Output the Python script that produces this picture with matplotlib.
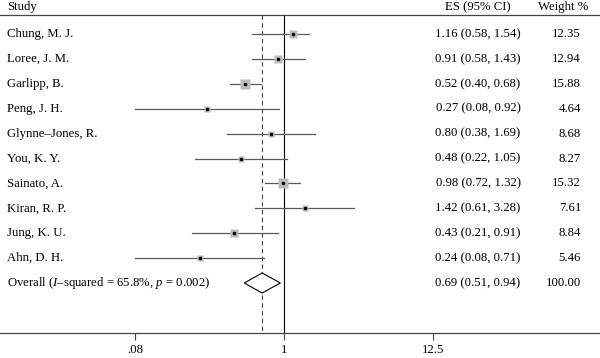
import matplotlib
matplotlib.use("Agg")
import matplotlib.pyplot as plt
import numpy as np

studies = ["Chung, M. J.", "Loree, J. M.", "Garlipp, B.", "Peng, J. H.",
           "Glynne–Jones, R.", "You, K. Y.", "Sainato, A.", "Kiran, R. P.",
           "Jung, K. U.", "Ahn, D. H."]
es = [1.16, 0.91, 0.52, 0.27, 0.80, 0.48, 0.98, 1.42, 0.43, 0.24]
lo = [0.58, 0.58, 0.40, 0.08, 0.38, 0.22, 0.72, 0.61, 0.21, 0.08]
hi = [1.54, 1.43, 0.68, 0.92, 1.69, 1.05, 1.32, 3.28, 0.91, 0.71]
weights = [12.35, 12.94, 15.88, 4.64, 8.68, 8.27, 15.32, 7.61, 8.84, 5.46]

overall_es, overall_lo, overall_hi = 0.69, 0.51, 0.94
overall_weight = 100.00
overall_label = r"Overall ($I$–squared = 65.8%, $p$ = 0.002)"

xticks = [0.08, 1, 12.5]
xticklabels = [".08", "1", "12.5"]

plt.rcParams["font.family"] = "Liberation Serif"
plt.rcParams["mathtext.fontset"] = "custom"
plt.rcParams["mathtext.rm"] = "Liberation Serif"
plt.rcParams["mathtext.it"] = "Liberation Serif:italic"

W, H = 600, 358
fig = plt.figure(figsize=(W / 100, H / 100), dpi=100)
ax = fig.add_axes([0, 0, 1, 1])
ax.set_xscale("log")

# pixel layout: x=1 at 284px, 0.08 at 135px
x1, x08 = 284.0, 135.0
ppu = (x1 - x08) / np.log(12.5)
ax.set_xlim(np.exp(-x1 / ppu), np.exp((W - x1) / ppu))
ax.set_ylim(H, 0)

top_line = 15
axis_y = 333
row0, dy = 34, 24.9
fs = 9.2

txt = ax.get_yaxis_transform()  # x axes fraction, y data
def fx(px):
    return px / W

# header
ax.text(fx(7), 7, "Study", transform=txt, fontsize=fs, va="center", ha="left")
ax.text(fx(478), 7, "ES (95% CI)", transform=txt, fontsize=fs, va="center", ha="center")
ax.text(fx(588), 7, "Weight %", transform=txt, fontsize=fs, va="center", ha="right")
ax.axhline(top_line, color="#444444", lw=0.9)

# reference lines
ax.vlines(1, top_line, axis_y, color="black", lw=0.8)
ax.vlines(overall_es, top_line, axis_y, color="#444444", lw=0.8,
          linestyles=(0, (4, 3)))

maxw = max(weights)
for i, (name, e, l, h, w) in enumerate(zip(studies, es, lo, hi, weights)):
    y = row0 + dy * i
    ax.plot([l, h], [y, y], color="#5a5a5a", lw=0.9, zorder=2)
    ax.plot(e, y, marker="s", ms=6.8 * np.sqrt(w / maxw), color="#bcbcbc",
            mec="none", zorder=3)
    ax.plot(e, y, marker="o", ms=2.6, color="black", mec="none", zorder=4)
    ax.text(fx(7), y, name, transform=txt, fontsize=fs, va="center", ha="left")
    ax.text(fx(478), y, "%.2f (%.2f, %.2f)" % (e, l, h), transform=txt,
            fontsize=fs, va="center", ha="center")
    ax.text(fx(581), y, "%.2f" % w, transform=txt, fontsize=fs,
            va="center", ha="right")

# overall diamond
yo = row0 + dy * len(studies)
ax.fill([overall_lo, overall_es, overall_hi, overall_es],
        [yo, yo - 10, yo, yo + 10], facecolor="white", edgecolor="black",
        lw=0.8, zorder=3)
ax.text(fx(7), yo, overall_label, transform=txt, fontsize=fs, va="center", ha="left")
ax.text(fx(478), yo, "%.2f (%.2f, %.2f)" % (overall_es, overall_lo, overall_hi),
        transform=txt, fontsize=fs, va="center", ha="center")
ax.text(fx(581), yo, "%.2f" % overall_weight, transform=txt, fontsize=fs,
        va="center", ha="right")

# x axis
for s in ["top", "left", "right"]:
    ax.spines[s].set_visible(False)
ax.spines["bottom"].set_position(("data", axis_y))
ax.spines["bottom"].set_color("#444444")
ax.spines["bottom"].set_linewidth(0.9)
ax.set_xticks(xticks)
ax.set_xticklabels(xticklabels)
ax.xaxis.set_minor_locator(matplotlib.ticker.NullLocator())
ax.tick_params(axis="x", direction="out", length=5, width=0.8,
               color="#444444", labelsize=fs, pad=3)
ax.set_yticks([])

fig.savefig("out.png", dpi=100)
